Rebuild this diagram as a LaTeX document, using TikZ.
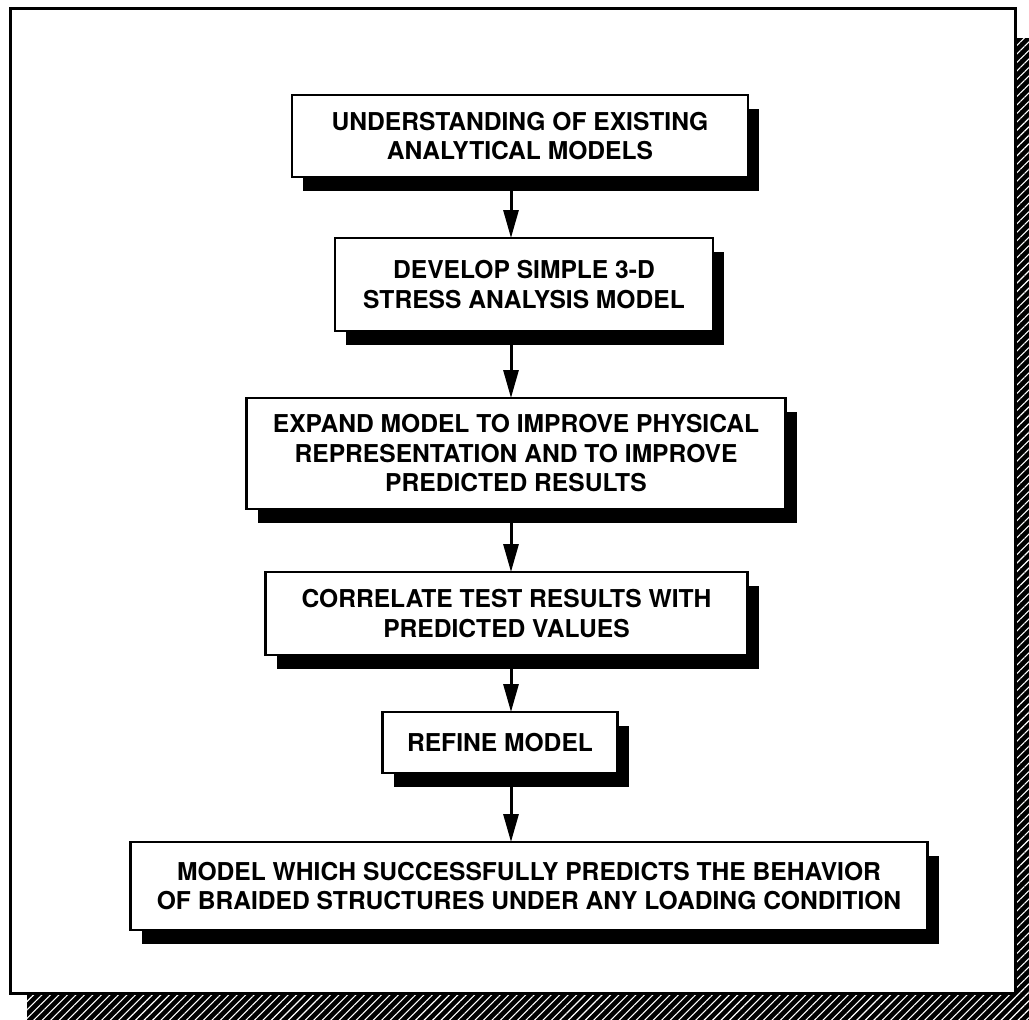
\documentclass[tikz,border=0pt]{standalone}
\usepackage{fontspec}
\setmainfont{TeX Gyre Heros}
\usetikzlibrary{arrows.meta, positioning, shadows, patterns.meta}
\tikzset{%
    arrowline/.style={%
        -{Triangle[length=28pt, width=15pt]},
        line width=3pt,
    },
    stage/.style={%
        rectangle,
        fill=white,
        draw=black, line width=2.5pt,
        drop shadow={shadow xshift=11pt, shadow yshift=-14pt, fill=black, opacity=1},
        font=\fontsize{24.6}{29.5}\selectfont\bfseries,
        text centered,
        align=center,
        inner sep=0pt,
        outer sep=0pt,
    },
    hatch/.style={%
        pattern={Lines[angle=45, distance=6pt, line width=1.1pt]},
        pattern color=white,
    },
}

\begin{document}
\begin{tikzpicture}[x=1pt, y=-1pt]
	\useasboundingbox (0,0) rectangle (1029,1020);

	% sheet with hatched shadow
	\fill[black] (27,38) rectangle (1029,1020);
	\fill[hatch] (27,38) rectangle (1029,1020);
	\draw[line width=3pt, fill=white] (10,8) rectangle (1015,993);

	\coordinate (top_side) at (520,136);
	\coordinate (axis) at (511,0);

	\node [stage, minimum width=456pt, minimum height=82pt] at (top_side) (stage1) {UNDERSTANDING OF EXISTING\\ANALYTICAL MODELS};
	\node [stage, minimum width=378pt, minimum height=93pt, below=61pt of stage1, xshift=4pt] (stage2) {DEVELOP SIMPLE 3-D\\STRESS ANALYSIS MODEL};
	\node [stage, minimum width=539pt, minimum height=111pt, below=67pt of stage2, xshift=-8pt] (stage3) {EXPAND MODEL TO IMPROVE PHYSICAL\\REPRESENTATION AND TO IMPROVE\\PREDICTED RESULTS};
	\node [stage, minimum width=482pt, minimum height=83pt, below=63pt of stage3, xshift=-9.5pt] (stage4) {CORRELATE TEST RESULTS WITH\\PREDICTED VALUES};
	\node [stage, minimum width=235pt, minimum height=61pt, below=57pt of stage4, xshift=-6.5pt] (stage5) {REFINE MODEL};
	\node [stage, minimum width=797pt, minimum height=88pt, below=69pt of stage5, xshift=29pt] (stage6) {MODEL WHICH SUCCESSFULLY PREDICTS THE BEHAVIOR\\OF BRAIDED STRUCTURES UNDER ANY LOADING CONDITION};

	\draw[arrowline] (stage1.south -| axis) -- (stage2.north -| axis);
	\draw[arrowline] (stage2.south -| axis) -- (stage3.north -| axis);
	\draw[arrowline] (stage3.south -| axis) -- (stage4.north -| axis);
	\draw[arrowline] (stage4.south -| axis) -- (stage5.north -| axis);
	\draw[arrowline] (stage5.south -| axis) -- (stage6.north -| axis);
\end{tikzpicture}
\end{document}
